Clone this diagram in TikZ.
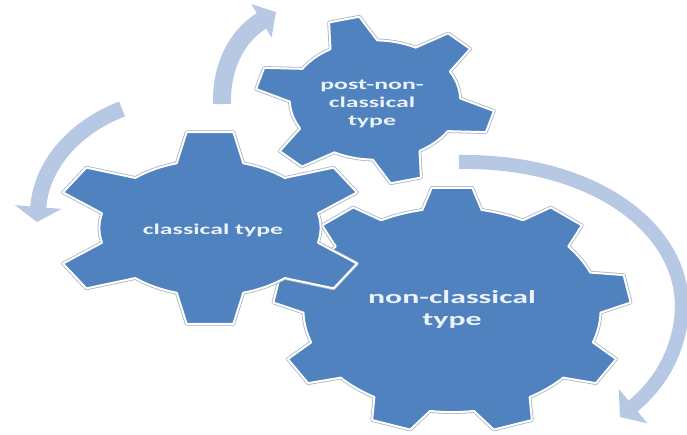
\documentclass[tikz,border=0pt]{standalone}
\usepackage{fontspec}
\setmainfont{Carlito}
\usetikzlibrary{arrows.meta}
\definecolor{gearblue}{RGB}{80,130,192}
\definecolor{arrowblue}{RGB}{183,200,228}
\definecolor{gearedge}{RGB}{170,180,195}
\definecolor{labeltext}{RGB}{236,242,250}
\newcommand{\gearpts}[5]{%
  ({#2-#5}:#3) \foreach \k in {1,...,#1}{
    -- ({#2+(\k-1)*360/#1-#4}:1) -- ({#2+(\k-1)*360/#1+#4}:1) -- ({#2+(\k-1)*360/#1+#5}:#3)
    arc[start angle={#2+(\k-1)*360/#1+#5}, end angle={#2+\k*360/#1-#5}, radius=#3]
  } -- cycle}
\newcommand{\gear}[9]{%
  \begin{scope}[shift={(#1,#2)}, xscale=#3, yscale=-#4]
    \path[gearrim] \gearpts{#5}{#6}{#7}{#8}{#9};
    \path[gearbody] \gearpts{#5}{#6}{#7}{#8}{#9};
  \end{scope}}
\tikzset{
  gearrim/.style={draw=gearedge, line width=3.6pt, line join=round},
  gearbody/.style={fill=gearblue, draw=white, line width=2pt, line join=round},
  cyclearrow/.style={draw=arrowblue},
  gtext/.style={text=labeltext, inner sep=0pt, align=center},
}
\begin{document}
\begin{tikzpicture}[x=1pt,y=-1pt]
  \fill[white] (0,0) rectangle (687,434);
  \useasboundingbox (0,0) rectangle (687,434);
  % circular arrows
  \coordinate (a1s) at (222,104);
  \coordinate (a1e) at (276,12);
  \coordinate (a2s) at (122,109);
  \coordinate (a2e) at (37,222);
  \coordinate (a3s) at (459,162);
  \coordinate (a3m) at (681,320);
  \coordinate (a3e) at (620,417);
  \draw[cyclearrow, line width=18pt, -{Triangle[width=38pt,length=17pt]}]
    (a1s) .. controls (221,65) and (238,35) .. (a1e);
  \draw[cyclearrow, line width=16pt, -{Triangle[width=46pt,length=15pt]}]
    (a2s) .. controls (80,125) and (42,160) .. (a2e);
  \draw[cyclearrow, line width=14pt, -{Triangle[width=44pt,length=17pt]}]
    (a3s) .. controls (600,160) and (692,235) .. (a3m)
    .. controls (675,365) and (650,392) .. (a3e);
  % gears
  \gear{452}{310}{179}{123}{9}{90}{0.83}{6.5}{11.5}
  \gear{375}{100}{120}{84}{6}{105}{0.71}{7.5}{16.5}
  \gear{210}{228}{158}{97}{6}{90}{0.70}{8.5}{17.5}
  % labels
  \node[gtext] (post) at (372,104) {\fontsize{15}{18}\selectfont\bfseries
    \scalebox{1.72}[1]{\begin{tabular}{@{}c@{}}post-non-\\classical\\type\end{tabular}}};
  \node[gtext] (classical) at (213,230) {\fontsize{15}{18}\selectfont\bfseries
    \scalebox{1.72}[1]{classical type}};
  \node[gtext] (nonclassical) at (452,310) {\fontsize{18.5}{22}\selectfont\bfseries
    \scalebox{1.72}[1]{\begin{tabular}{@{}c@{}}non-classical\\type\end{tabular}}};
\end{tikzpicture}
\end{document}
